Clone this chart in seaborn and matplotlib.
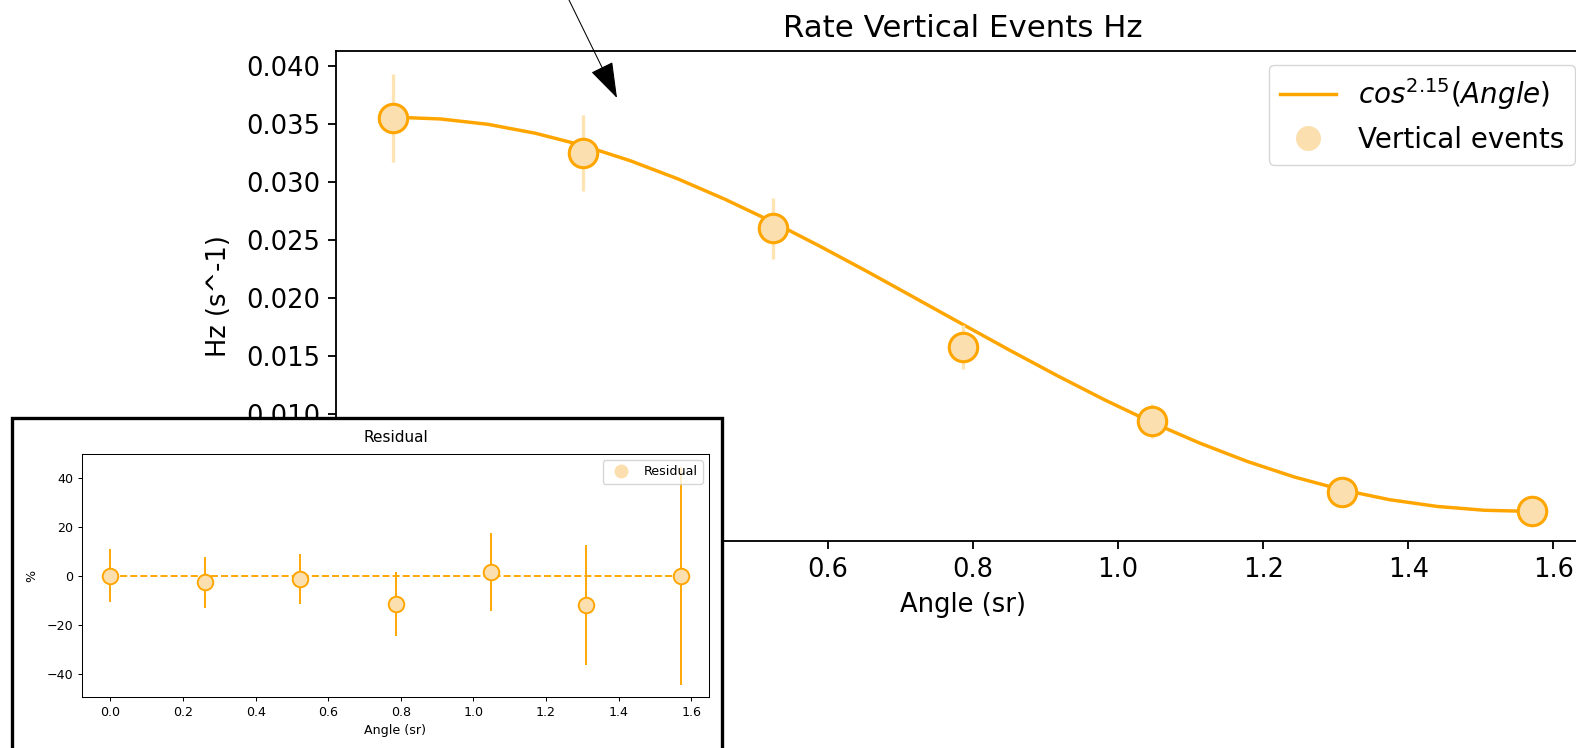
import numpy as np
import matplotlib
matplotlib.use("Agg")
import matplotlib.pyplot as plt
import seaborn as sns
from matplotlib.patches import Rectangle, FancyArrowPatch
from matplotlib.lines import Line2D

# ---------------- data ----------------
angles = [0.0, 0.2618, 0.5236, 0.7854, 1.0472, 1.3090, 1.5708]
rate = [0.0355, 0.0325, 0.0260, 0.0158, 0.0094, 0.0033, 0.0016]
rate_err = [0.0038, 0.0033, 0.0026, 0.0019, 0.0015, 0.0008, 0.0007]

fit_angles = [0.0, 0.0654, 0.1309, 0.1963, 0.2618, 0.3272, 0.3927, 0.4581,
              0.5236, 0.5890, 0.6545, 0.7199, 0.7854, 0.8508, 0.9163, 0.9817,
              1.0472, 1.1126, 1.1781, 1.2435, 1.3090, 1.3744, 1.4399, 1.5053,
              1.5708]
fit_rate = [0.03560, 0.03544, 0.03498, 0.03421, 0.03316, 0.03184, 0.03028,
            0.02851, 0.02656, 0.02446, 0.02227, 0.02001, 0.01774, 0.01549,
            0.01330, 0.01121, 0.00926, 0.00749, 0.00591, 0.00456, 0.00346,
            0.00261, 0.00203, 0.00170, 0.00160]

residual = [0.0, -2.7, -1.2, -11.5, 1.5, -12.1, -0.2]
residual_err = [10.7, 10.4, 10.2, 13.1, 16.0, 24.4, 44.3]
zero_line = [0.0, 0.0, 0.0, 0.0, 0.0, 0.0, 0.0]

title_main = "Rate Vertical Events Hz"
fit_label = r"$cos^{2.15}(Angle)$"
points_label = "Vertical events"

# ---------------- figure ----------------
W, H = 1576, 748
fig = plt.figure(figsize=(W / 100, H / 100), dpi=100)
fig.patch.set_facecolor("white")

k1 = 1.65   # line scale of main chart relative to matplotlib defaults
k2 = 0.914  # scale of the inset
FS = 18.5   # main font size

ORANGE = "orange"
LIGHT = "#FCDFAE"
FAINT = "#FFE4B3"

# ---- main axes ----
ax = fig.add_axes([336 / W, 1 - 541 / H, (1589 - 336) / W, (541 - 51) / H])
sns.lineplot(x=fit_angles, y=fit_rate, ax=ax, color=ORANGE, lw=1.5 * k1,
             zorder=2)
ax.errorbar(angles, rate, yerr=rate_err, fmt="none", ecolor=FAINT,
            elinewidth=2.4, zorder=3)
sns.scatterplot(x=angles, y=rate, ax=ax, s=20.5 ** 2, color=LIGHT,
                edgecolor=ORANGE, linewidth=2.2, zorder=4, legend=False)

ax.set_xlim(-0.0785, 1.6493)
ax.set_ylim(-0.00095, 0.0413)
ax.set_title(title_main, fontsize=FS * 1.2, pad=6 * k1)
ax.set_xlabel("Angle (sr)", fontsize=FS, labelpad=4 * k1)
ax.set_ylabel("Hz (s^-1)", fontsize=FS, labelpad=4 * k1 + 3)
ax.tick_params(labelsize=FS, length=3.5 * k1, width=0.8 * k1, pad=3.5 * k1)
for s in ax.spines.values():
    s.set_linewidth(0.8 * k1)
h_fit = Line2D([], [], color=ORANGE, lw=1.5 * k1)
h_pts = Line2D([], [], color=LIGHT, marker="o", ls="", ms=17, mec=LIGHT)
ax.legend([h_fit, h_pts], [fit_label, points_label], loc="upper right",
          fontsize=20)

# ---- white framed box for the inset ----
rect = Rectangle((11.7 / W, -0.1), (722 - 11.7) / W, 0.1 + (1 - 418 / H),
                 transform=fig.transFigure, facecolor="white",
                 edgecolor="black", lw=2.4, zorder=1)
fig.add_artist(rect)

# ---- inset axes ----
ax2 = fig.add_axes([82 / W, 1 - 697 / H, (709 - 82) / W, (697 - 454) / H])
ax2.set_zorder(2)
sns.lineplot(x=angles, y=zero_line, ax=ax2, color=ORANGE, lw=1.5 * k2,
             linestyle="--", zorder=1)
ax2.errorbar(angles, residual, yerr=residual_err, fmt="none", ecolor=ORANGE,
             elinewidth=1.5 * k2, zorder=2)
sns.scatterplot(x=angles, y=residual, ax=ax2, s=11.2 ** 2, color=LIGHT,
                edgecolor=ORANGE, linewidth=1.5 * k2, zorder=4, legend=False)
ax2.set_xlim(-0.0785, 1.6493)
ax2.set_ylim(-49.5, 49.6)
ax2.set_title("Residual", fontsize=12 * k2, pad=6 * k2 + 3)
ax2.set_xlabel("Angle (sr)", fontsize=10 * k2, labelpad=4 * k2)
ax2.set_ylabel("%", fontsize=10 * k2, labelpad=4 * k2 + 2)
ax2.set_yticks([-40, -20, 0, 20, 40])
ax2.tick_params(labelsize=10 * k2, length=3.5 * k2, width=0.8 * k2, pad=3.5 * k2)
for s in ax2.spines.values():
    s.set_linewidth(0.8 * k2)
h_res = Line2D([], [], color=LIGHT, marker="o", ls="", ms=9, mec=LIGHT)
ax2.legend([h_res], ["Residual"], loc="upper right", fontsize=10 * k2)

# ---- arrow ----
arrow = FancyArrowPatch(posA=(559.2 / W, 1 + 20 / H), posB=(617 / W, 1 - 98 / H),
                        transform=fig.transFigure,
                        arrowstyle="-|>,head_length=23,head_width=7.7",
                        mutation_scale=1, lw=0.75, color="black",
                        shrinkA=0, shrinkB=0, zorder=5)
fig.add_artist(arrow)

fig.savefig("out.png", dpi=100)
